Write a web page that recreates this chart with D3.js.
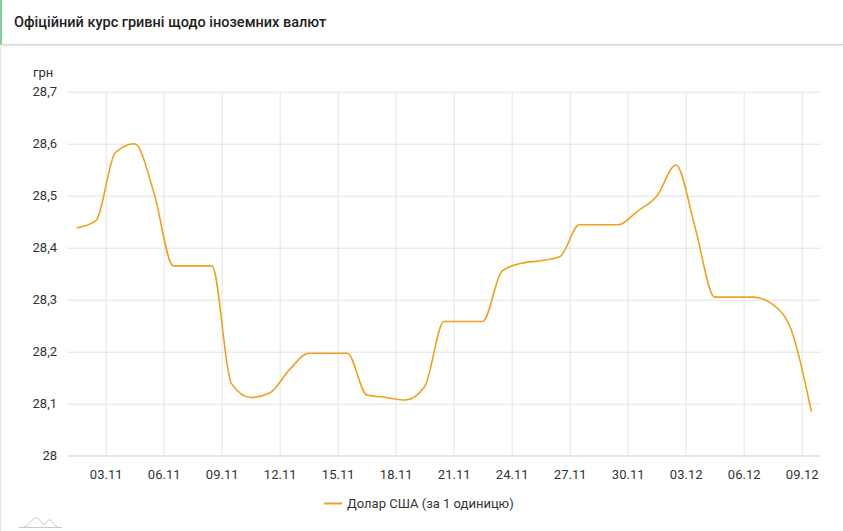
<!DOCTYPE html>
<html>
<head>
<meta charset="utf-8">
<script src="https://cdn.jsdelivr.net/npm/d3@7"></script>
<style>
  html, body { margin: 0; padding: 0; background: #fff; }
  body { width: 843px; height: 531px; overflow: hidden; font-family: Roboto, "Noto Sans", sans-serif; position: relative; }
  #hdr { position: absolute; left: 0; top: 0; width: 843px; height: 45px; border-left: 2px solid #7fcf9c; box-sizing: border-box; border-bottom: 1px solid #d8d8d8; box-shadow: 0 1px 2px rgba(0,0,0,0.12); background: #fff; z-index: 2; }
  #hdr span { position: absolute; left: 12px; top: 14px; font-size: 14.5px; font-weight: 500; color: #222; }
  #side { position: absolute; left: 0; top: 47px; width: 1px; height: 484px; background: #e6e6e6; }
  svg { position: absolute; left: 0; top: 0; }
</style>
</head>
<body>
<div id="hdr"><span>Офіційний курс гривні щодо іноземних валют</span></div>
<div id="side"></div>
<svg id="chart" width="843" height="531"></svg>
<script>
const title = "Офіційний курс гривні щодо іноземних валют";
const seriesName = "Долар США (за 1 одиницю)";
const unitLabel = "грн";
// daily dates (2020), dd.mm
const dates = ["01.11","02.11","03.11","04.11","05.11","06.11","07.11","08.11","09.11","10.11",
  "11.11","12.11","13.11","14.11","15.11","16.11","17.11","18.11","19.11","20.11",
  "21.11","22.11","23.11","24.11","25.11","26.11","27.11","28.11","29.11","30.11",
  "01.12","02.12","03.12","04.12","05.12","06.12","07.12","08.12","09.12"];
const usdValues = [28.438,28.452,28.583,28.600,28.505,28.365,28.365,28.365,28.139,28.112,
  28.121,28.165,28.197,28.197,28.197,28.117,28.112,28.107,28.133,28.258,
  28.258,28.258,28.355,28.370,28.375,28.383,28.444,28.444,28.444,28.470,
  28.499,28.559,28.437,28.305,28.305,28.305,28.291,28.238,28.085];
const yTicks = [28, 28.1, 28.2, 28.3, 28.4, 28.5, 28.6, 28.7];
const xTickLabels = ["03.11","06.11","09.11","12.11","15.11","18.11","21.11","24.11","27.11","30.11","03.12","06.12","09.12"];

const parse = s => { const [d, m] = s.split(".").map(Number); return new Date(2020, m - 1, d); };
const data = dates.map((d, i) => ({ date: d3.timeHour.offset(parse(d), 12), value: usdValues[i] }));

const svg = d3.select("#chart");
const mLeft = 67, mRight = 821, mTop = 91.7, mBottom = 455.7;

const x = d3.scaleTime().domain([parse("01.11"), parse("10.12")]).range([mLeft, mRight]);
const y = d3.scaleLinear().domain([28, 28.7]).range([mBottom, mTop]);

const fmtY = d => d3.format(".1f")(d).replace(".", ",").replace(/,0$/, "");

// horizontal grid + y labels
const yAxis = d3.axisLeft(y).tickValues(yTicks).tickSize(-(mRight - mLeft)).tickFormat(fmtY).tickPadding(10);
const gy = svg.append("g").attr("transform", `translate(${mLeft},0)`).call(yAxis);
gy.select(".domain").remove();
gy.selectAll(".tick line").attr("stroke", "#e3e3e3").attr("stroke-width", 1);
gy.selectAll(".tick text").attr("font-size", 13).attr("fill", "#333").attr("font-family", "Roboto, sans-serif");

// vertical grid + x labels
const xTickDates = xTickLabels.map(parse);
const xAxis = d3.axisBottom(x).tickValues(xTickDates).tickSize(-(mBottom - mTop)).tickFormat(d3.timeFormat("%d.%m")).tickPadding(14);
const gx = svg.append("g").attr("transform", `translate(0,${mBottom})`).call(xAxis);
gx.select(".domain").remove();
gx.selectAll(".tick line").attr("stroke", "#e3e3e3").attr("stroke-width", 1);
gx.selectAll(".tick text").attr("font-size", 13).attr("fill", "#333").attr("font-family", "Roboto, sans-serif");

// baseline
svg.append("line").attr("x1", mLeft).attr("x2", mRight).attr("y1", y(28)).attr("y2", y(28)).attr("stroke", "#e0e0e0");

// unit label
svg.append("text").attr("x", 33).attr("y", 77).attr("font-size", 13).attr("fill", "#333").text(unitLabel);

// line
const line = d3.line().x(d => x(d.date)).y(d => y(d.value)).curve(d3.curveMonotoneX);
svg.append("path").datum(data).attr("d", line).attr("fill", "none").attr("stroke", "#f0a11e").attr("stroke-width", 1.6);

// legend
svg.append("line").attr("x1", 324).attr("x2", 342).attr("y1", 503.5).attr("y2", 503.5).attr("stroke", "#f0a11e").attr("stroke-width", 2);
svg.append("text").attr("x", 347).attr("y", 508).attr("font-size", 13).attr("fill", "#333").text(seriesName);

// small icon bottom-left
const icon = svg.append("g").attr("stroke", "#c8c8c8").attr("fill", "none").attr("stroke-width", 1);
icon.append("line").attr("x1", 19).attr("x2", 62).attr("y1", 527.5).attr("y2", 527.5);
icon.append("path").attr("d", "M24,527 C30,525 32,518 36,518 C40,518 41,524 44,524 C47,524 47,519 50,520 C53,521 53,526 58,527");
</script>
</body>
</html>
